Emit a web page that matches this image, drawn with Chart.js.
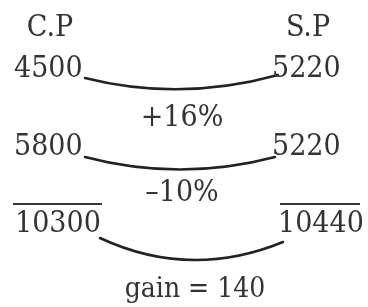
<!DOCTYPE html>
<html>
<head>
<meta charset="utf-8">
<script src="https://cdn.jsdelivr.net/npm/chart.js@4/dist/chart.umd.min.js"></script>
<style>
  html, body { margin: 0; padding: 0; background: #fff; }
  #wrap { width: 368px; height: 307px; }
</style>
</head>
<body>
<div id="wrap"><canvas id="chart" width="368" height="307"></canvas></div>
<script>
// values
const headers = ['C.P', 'S.P'];
const costPrices = [4500, 5800];
const sellingPrices = [5220, 5220];
const changes = ['+16%', '\u201310%'];
const totals = [10300, 10440];
const gain = 140;

// layout (pixel space of the 368x307 canvas)
const ink = '#333';
const family = '"DejaVu Serif Condensed", "DejaVu Serif", serif';
const rowBase = [77, 155];
const changeBase = [126, 201];
const leftX = 14, rightX = 272;

// arcs between left and right figures: [start, control, end] of a quadratic curve
const arcs = [
  [[85, 78], [180, 102], [278, 75]],
  [[85, 157], [180, 182], [275, 157]],
  [[100, 238], [190, 280], [283, 242]]
];
const overlines = [[[13, 204], [102, 204]], [[280, 204], [360, 204]]];

const datasets = overlines.map(a => ({
  data: a.map(p => ({ x: p[0], y: p[1] })),
  showLine: true, borderColor: '#333', borderWidth: 2,
  pointRadius: 0, fill: false
}));

const drawPlugin = {
  id: 'diagram',
  afterDatasetsDraw(chart) {
    const ctx = chart.ctx;
    const sx = v => chart.scales.x.getPixelForValue(v);
    const sy = v => chart.scales.y.getPixelForValue(v);
    ctx.save();
    // arcs
    ctx.strokeStyle = '#222';
    ctx.lineWidth = 2.5;
    ctx.lineCap = 'round';
    arcs.forEach(([s, c, e]) => {
      ctx.beginPath();
      ctx.moveTo(sx(s[0]), sy(s[1]));
      ctx.quadraticCurveTo(sx(c[0]), sy(c[1]), sx(e[0]), sy(e[1]));
      ctx.stroke();
    });
    // texts
    ctx.fillStyle = ink;
    ctx.textBaseline = 'alphabetic';
    ctx.font = '30px ' + family;
    ctx.textAlign = 'center';
    ctx.fillText(headers[0], sx(50), sy(36));
    ctx.fillText(headers[1], sx(308), sy(36));
    ctx.textAlign = 'left';
    costPrices.forEach((v, i) => ctx.fillText(String(v), sx(leftX), sy(rowBase[i])));
    sellingPrices.forEach((v, i) => ctx.fillText(String(v), sx(rightX), sy(rowBase[i])));
    ctx.textAlign = 'center';
    changes.forEach((c, i) => ctx.fillText(c, sx(182), sy(changeBase[i])));
    ctx.textAlign = 'left';
    ctx.fillText(String(totals[0]), sx(15), sy(232));
    ctx.fillText(String(totals[1]), sx(278), sy(232));
    ctx.textAlign = 'center';
    ctx.font = '28px ' + family;
    ctx.fillText('gain = ' + gain, sx(195), sy(297));
    ctx.restore();
  }
};

new Chart(document.getElementById('chart'), {
  type: 'scatter',
  data: { datasets },
  options: {
    responsive: false,
    animation: false,
    layout: { padding: 0 },
    plugins: { legend: { display: false }, tooltip: { enabled: false } },
    scales: {
      x: { type: 'linear', min: 0, max: 368, display: false },
      y: { type: 'linear', min: 0, max: 307, reverse: true, display: false }
    }
  },
  plugins: [drawPlugin]
});
</script>
</body>
</html>
